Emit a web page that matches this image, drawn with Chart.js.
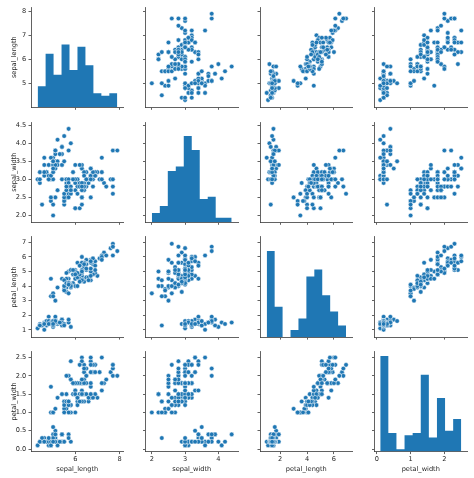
<!DOCTYPE html>
<html>
<head>
<meta charset="utf-8">
<script src="https://cdn.jsdelivr.net/npm/chart.js@4.4.1/dist/chart.umd.min.js"></script>
<style>
  html, body { margin: 0; padding: 0; background: #fff; }
  #wrap { position: relative; width: 474px; height: 478px; background: #fff; overflow: hidden; }
  #wrap canvas { position: absolute; left: 0; top: 0; }
</style>
</head>
<body>
<div id="wrap"></div>
<script>
// ---------------- DATA (iris) ----------------
const variables = ["sepal_length", "sepal_width", "petal_length", "petal_width"];

const sepal_length = [
  5.1,4.9,4.7,4.6,5.0,5.4,4.6,5.0,4.4,4.9,5.4,4.8,4.8,4.3,5.8,5.7,5.4,5.1,5.7,5.1,
  5.4,5.1,4.6,5.1,4.8,5.0,5.0,5.2,5.2,4.7,4.8,5.4,5.2,5.5,4.9,5.0,5.5,4.9,4.4,5.1,
  5.0,4.5,4.4,5.0,5.1,4.8,5.1,4.6,5.3,5.0,
  7.0,6.4,6.9,5.5,6.5,5.7,6.3,4.9,6.6,5.2,5.0,5.9,6.0,6.1,5.6,6.7,5.6,5.8,6.2,5.6,
  5.9,6.1,6.3,6.1,6.4,6.6,6.8,6.7,6.0,5.7,5.5,5.5,5.8,6.0,5.4,6.0,6.7,6.3,5.6,5.5,
  5.5,6.1,5.8,5.0,5.6,5.7,5.7,6.2,5.1,5.7,
  6.3,5.8,7.1,6.3,6.5,7.6,4.9,7.3,6.7,7.2,6.5,6.4,6.8,5.7,5.8,6.4,6.5,7.7,7.7,6.0,
  6.9,5.6,7.7,6.3,6.7,7.2,6.2,6.1,6.4,7.2,7.4,7.9,6.4,6.3,6.1,7.7,6.3,6.4,6.0,6.9,
  6.7,6.9,5.8,6.8,6.7,6.7,6.3,6.5,6.2,5.9
];
const sepal_width = [
  3.5,3.0,3.2,3.1,3.6,3.9,3.4,3.4,2.9,3.1,3.7,3.4,3.0,3.0,4.0,4.4,3.9,3.5,3.8,3.8,
  3.4,3.7,3.6,3.3,3.4,3.0,3.4,3.5,3.4,3.2,3.1,3.4,4.1,4.2,3.1,3.2,3.5,3.6,3.0,3.4,
  3.5,2.3,3.2,3.5,3.8,3.0,3.8,3.2,3.7,3.3,
  3.2,3.2,3.1,2.3,2.8,2.8,3.3,2.4,2.9,2.7,2.0,3.0,2.2,2.9,2.9,3.1,3.0,2.7,2.2,2.5,
  3.2,2.8,2.5,2.8,2.9,3.0,2.8,3.0,2.9,2.6,2.4,2.4,2.7,2.7,3.0,3.4,3.1,2.3,3.0,2.5,
  2.6,3.0,2.6,2.3,2.7,3.0,2.9,2.9,2.5,2.8,
  3.3,2.7,3.0,2.9,3.0,3.0,2.5,2.9,2.5,3.6,3.2,2.7,3.0,2.5,2.8,3.2,3.0,3.8,2.6,2.2,
  3.2,2.8,2.8,2.7,3.3,3.2,2.8,3.0,2.8,3.0,2.8,3.8,2.8,2.8,2.6,3.0,3.4,3.1,3.0,3.1,
  3.1,3.1,2.7,3.2,3.3,3.0,2.5,3.0,3.4,3.0
];
const petal_length = [
  1.4,1.4,1.3,1.5,1.4,1.7,1.4,1.5,1.4,1.5,1.5,1.6,1.4,1.1,1.2,1.5,1.3,1.4,1.7,1.5,
  1.7,1.5,1.0,1.7,1.9,1.6,1.6,1.5,1.4,1.6,1.6,1.5,1.5,1.4,1.5,1.2,1.3,1.4,1.3,1.5,
  1.3,1.3,1.3,1.6,1.9,1.4,1.6,1.4,1.5,1.4,
  4.7,4.5,4.9,4.0,4.6,4.5,4.7,3.3,4.6,3.9,3.5,4.2,4.0,4.7,3.6,4.4,4.5,4.1,4.5,3.9,
  4.8,4.0,4.9,4.7,4.3,4.4,4.8,5.0,4.5,3.5,3.8,3.7,3.9,5.1,4.5,4.5,4.7,4.4,4.1,4.0,
  4.4,4.6,4.0,3.3,4.2,4.2,4.2,4.3,3.0,4.1,
  6.0,5.1,5.9,5.6,5.8,6.6,4.5,6.3,5.8,6.1,5.1,5.3,5.5,5.0,5.1,5.3,5.5,6.7,6.9,5.0,
  5.7,4.9,6.7,4.9,5.7,6.0,4.8,4.9,5.6,5.8,6.1,6.4,5.6,5.1,5.6,6.1,5.6,5.5,4.8,5.4,
  5.6,5.1,5.1,5.9,5.7,5.2,5.0,5.2,5.4,5.1
];
const petal_width = [
  0.2,0.2,0.2,0.2,0.2,0.4,0.3,0.2,0.2,0.1,0.2,0.2,0.1,0.1,0.2,0.4,0.4,0.3,0.3,0.3,
  0.2,0.4,0.2,0.5,0.2,0.2,0.4,0.2,0.2,0.2,0.2,0.4,0.1,0.2,0.2,0.2,0.2,0.1,0.2,0.2,
  0.3,0.3,0.2,0.6,0.4,0.3,0.2,0.2,0.2,0.2,
  1.4,1.5,1.5,1.3,1.5,1.3,1.6,1.0,1.3,1.4,1.0,1.5,1.0,1.4,1.3,1.4,1.5,1.0,1.5,1.1,
  1.8,1.3,1.5,1.2,1.3,1.4,1.4,1.7,1.5,1.0,1.1,1.0,1.2,1.6,1.5,1.6,1.5,1.3,1.3,1.3,
  1.2,1.4,1.2,1.0,1.3,1.2,1.3,1.3,1.1,1.3,
  2.5,1.9,2.1,1.8,2.2,2.1,1.7,1.8,1.8,2.5,2.0,1.9,2.1,2.0,2.4,2.3,1.8,2.2,2.3,1.5,
  2.3,2.0,2.0,1.8,2.1,1.8,1.8,1.8,2.1,1.6,1.9,2.0,2.2,1.5,1.4,2.3,2.4,1.8,1.8,2.1,
  2.4,2.3,1.9,2.3,2.5,2.3,1.9,2.0,2.3,1.8
];

// histogram bin edges and counts (diagonal)
const sepal_length_bins = [4.3,4.66,5.02,5.38,5.74,6.1,6.46,6.82,7.18,7.54,7.9];
const sepal_length_counts = [9,23,14,27,16,26,18,6,5,6];
const sepal_width_bins = [2.0,2.24,2.48,2.72,2.96,3.2,3.44,3.68,3.92,4.16,4.4];
const sepal_width_counts = [4,7,22,24,37,31,10,11,2,2];
const petal_length_bins = [1.0,1.59,2.18,2.77,3.36,3.95,4.54,5.13,5.72,6.31,6.9];
const petal_length_counts = [37,13,0,3,8,26,29,18,11,5];
const petal_width_bins = [0.1,0.34,0.58,0.82,1.06,1.3,1.54,1.78,2.02,2.26,2.5];
const petal_width_counts = [41,8,1,7,8,33,6,23,9,14];

// tick values and labels
const sepal_length_xticks = [6, 8];
const sepal_length_xlabels = ["6", "8"];
const sepal_length_yticks = [5, 6, 7, 8];
const sepal_length_ylabels = ["5", "6", "7", "8"];
const sepal_width_xticks = [2, 3, 4];
const sepal_width_xlabels = ["2", "3", "4"];
const sepal_width_yticks = [2.0, 2.5, 3.0, 3.5, 4.0, 4.5];
const sepal_width_ylabels = ["2.0", "2.5", "3.0", "3.5", "4.0", "4.5"];
const petal_length_xticks = [2, 4, 6];
const petal_length_xlabels = ["2", "4", "6"];
const petal_length_yticks = [1, 2, 3, 4, 5, 6, 7];
const petal_length_ylabels = ["1", "2", "3", "4", "5", "6", "7"];
const petal_width_xticks = [0, 1, 2];
const petal_width_xlabels = ["0", "1", "2"];
const petal_width_yticks = [0.0, 0.5, 1.0, 1.5, 2.0, 2.5];
const petal_width_ylabels = ["0.0", "0.5", "1.0", "1.5", "2.0", "2.5"];

// axis limits
const sepal_length_range = [4.0, 8.18];
const sepal_width_range = [1.81, 4.59];
const petal_length_range = [0.5, 7.38];
const petal_width_range = [-0.07, 2.67];
const hist_count_range = [0, 43.05];

// ---------------- assembly ----------------
const values = { sepal_length, sepal_width, petal_length, petal_width };
const bins = { sepal_length: sepal_length_bins, sepal_width: sepal_width_bins,
               petal_length: petal_length_bins, petal_width: petal_width_bins };
const counts = { sepal_length: sepal_length_counts, sepal_width: sepal_width_counts,
                 petal_length: petal_length_counts, petal_width: petal_width_counts };
const ranges = { sepal_length: sepal_length_range, sepal_width: sepal_width_range,
                 petal_length: petal_length_range, petal_width: petal_width_range };
const xticks = {
  sepal_length: [sepal_length_xticks, sepal_length_xlabels],
  sepal_width: [sepal_width_xticks, sepal_width_xlabels],
  petal_length: [petal_length_xticks, petal_length_xlabels],
  petal_width: [petal_width_xticks, petal_width_xlabels]
};
const yticks = {
  sepal_length: [sepal_length_yticks, sepal_length_ylabels],
  sepal_width: [sepal_width_yticks, sepal_width_ylabels],
  petal_length: [petal_length_yticks, petal_length_ylabels],
  petal_width: [petal_width_yticks, petal_width_ylabels]
};

// ---------------- layout & style ----------------
const PAGE_W = 474, PAGE_H = 478;
const colLeft = [31, 145.5, 260, 374.5];
const colW = 92.5;
const rowTop = [7, 122, 236.8, 351.3];
const rowH = 100.3;
const Y_AXIS_W = 30, X_AXIS_H = 26;
const BLUE = '#1f77b4';
const TEXT = '#262626';
const SPINE = '#3a3a3a';
const FONT = { family: "'DejaVu Sans', sans-serif", size: 6.6 };

Chart.defaults.animation = false;
Chart.defaults.font.family = FONT.family;

function xScaleCfg(v, showLabels, showTitle) {
  const [tv, tl] = xticks[v];
  return {
    type: 'linear', position: 'bottom', offset: false,
    min: ranges[v][0], max: ranges[v][1],
    grid: { display: true, drawOnChartArea: false, drawTicks: true, tickLength: 2.5,
            offset: false, color: SPINE, tickColor: SPINE, tickWidth: 0.8 },
    border: { display: true, color: SPINE, width: 0.8 },
    ticks: { display: showLabels, padding: 1.5, autoSkip: false, maxRotation: 0,
             color: TEXT, font: FONT, callback: (val, i) => tl[i] },
    title: { display: showTitle, text: v, color: TEXT, font: FONT,
             padding: { top: 0, bottom: 4.2 } },
    afterBuildTicks: s => { s.ticks = tv.map(t => ({ value: t })); },
    afterFit: s => { s.height = X_AXIS_H; s.paddingLeft = 0; s.paddingRight = 0; }
  };
}
function yScaleCfg(v, showLabels, showTitle) {
  const [tv, tl] = yticks[v];
  return {
    type: 'linear', position: 'left',
    min: ranges[v][0], max: ranges[v][1],
    grid: { display: true, drawOnChartArea: false, drawTicks: true, tickLength: 2.5,
            color: SPINE, tickColor: SPINE, tickWidth: 0.8 },
    border: { display: true, color: SPINE, width: 0.8 },
    ticks: { display: showLabels, padding: 2.2, autoSkip: false,
             color: TEXT, font: FONT, callback: (val, i) => tl[i] },
    title: { display: showTitle, text: v, color: TEXT, font: FONT,
             padding: { top: 9, bottom: 0 } },
    afterBuildTicks: s => { s.ticks = tv.map(t => ({ value: t })); },
    afterFit: s => { s.width = Y_AXIS_W; s.paddingTop = 0; s.paddingBottom = 0; }
  };
}

const wrap = document.getElementById('wrap');

for (let i = 0; i < 4; i++) {
  for (let j = 0; j < 4; j++) {
    const vy = variables[i], vx = variables[j];
    const canvas = document.createElement('canvas');
    canvas.width = PAGE_W; canvas.height = PAGE_H;
    canvas.style.width = PAGE_W + 'px'; canvas.style.height = PAGE_H + 'px';
    wrap.appendChild(canvas);

    const padding = {
      left: colLeft[j] - Y_AXIS_W,
      right: PAGE_W - (colLeft[j] + colW),
      top: rowTop[i],
      bottom: PAGE_H - (rowTop[i] + rowH) - X_AXIS_H
    };
    const scales = {
      x: xScaleCfg(vx, i === 3, i === 3),
      y: yScaleCfg(vy, j === 0, j === 0)
    };

    let datasets;
    if (i === j) {
      // histogram: one filled step outline built from bin edges + counts
      const e = bins[vx], c = counts[vx];
      const data = e.map((edge, k) => ({ x: edge, y: c[Math.min(k, c.length - 1)] }));
      scales.yh = { type: 'linear', display: false, position: 'right',
                    min: hist_count_range[0], max: hist_count_range[1] };
      datasets = [{ type: 'line', data, xAxisID: 'x', yAxisID: 'yh',
                    stepped: 'before', fill: 'origin', showLine: true,
                    backgroundColor: BLUE, borderColor: BLUE, borderWidth: 0,
                    pointRadius: 0, pointHoverRadius: 0, tension: 0 }];
    } else {
      const xs = values[vx], ys = values[vy];
      const data = xs.map((xv, k) => ({ x: xv, y: ys[k] }));
      datasets = [{ data, xAxisID: 'x', yAxisID: 'y',
                    pointRadius: 2.3, pointBackgroundColor: BLUE,
                    pointBorderColor: '#ffffff', pointBorderWidth: 0.5,
                    pointHoverRadius: 2.3, showLine: false }];
    }
    new Chart(canvas, {
      type: 'scatter',
      data: { datasets },
      options: {
        responsive: false, maintainAspectRatio: false, animation: false,
        layout: { padding },
        plugins: { legend: { display: false }, tooltip: { enabled: false },
                   title: { display: false }, filler: { propagate: false } },
        events: [],
        scales
      }
    });
  }
}
</script>
</body>
</html>
